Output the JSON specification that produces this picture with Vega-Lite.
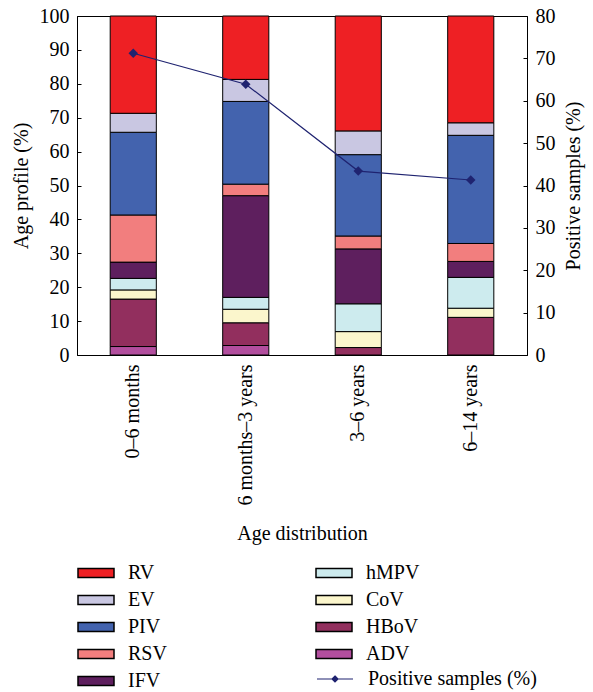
{
  "$schema": "https://vega.github.io/schema/vega-lite/v6.json",
  "width": 450,
  "height": 339,
  "autosize": "none",
  "padding": {"left": 77, "top": 16, "right": 66, "bottom": 337},
  "background": "white",
  "config": {
    "font": "Liberation Serif",
    "view": {"stroke": "black", "strokeWidth": 1},
    "axis": {"labelFont": "Liberation Serif", "titleFont": "Liberation Serif", "labelColor": "black", "titleColor": "black", "domainColor": "black", "tickColor": "black", "labelFontSize": 20, "titleFontSize": 20, "titleFontWeight": "normal", "grid": false},
    "legend": {"labelFont": "Liberation Serif", "labelFontSize": 20, "labelColor": "black", "labelLimit": 300}
  },
  "datasets": {
    "bars": [
      {"age": "0–6 months", "virus": "ADV", "rank": 1, "value": 2.5},
      {"age": "0–6 months", "virus": "HBoV", "rank": 2, "value": 14.0},
      {"age": "0–6 months", "virus": "CoV", "rank": 3, "value": 2.7},
      {"age": "0–6 months", "virus": "hMPV", "rank": 4, "value": 3.4},
      {"age": "0–6 months", "virus": "IFV", "rank": 5, "value": 4.8},
      {"age": "0–6 months", "virus": "RSV", "rank": 6, "value": 13.9},
      {"age": "0–6 months", "virus": "PIV", "rank": 7, "value": 24.4},
      {"age": "0–6 months", "virus": "EV", "rank": 8, "value": 5.6},
      {"age": "0–6 months", "virus": "RV", "rank": 9, "value": 28.7},
      {"age": "6 months–3 years", "virus": "ADV", "rank": 1, "value": 2.8},
      {"age": "6 months–3 years", "virus": "HBoV", "rank": 2, "value": 6.7},
      {"age": "6 months–3 years", "virus": "CoV", "rank": 3, "value": 4.0},
      {"age": "6 months–3 years", "virus": "hMPV", "rank": 4, "value": 3.5},
      {"age": "6 months–3 years", "virus": "IFV", "rank": 5, "value": 30.0},
      {"age": "6 months–3 years", "virus": "RSV", "rank": 6, "value": 3.4},
      {"age": "6 months–3 years", "virus": "PIV", "rank": 7, "value": 24.4},
      {"age": "6 months–3 years", "virus": "EV", "rank": 8, "value": 6.5},
      {"age": "6 months–3 years", "virus": "RV", "rank": 9, "value": 18.7},
      {"age": "3–6 years", "virus": "HBoV", "rank": 2, "value": 2.2},
      {"age": "3–6 years", "virus": "CoV", "rank": 3, "value": 4.7},
      {"age": "3–6 years", "virus": "hMPV", "rank": 4, "value": 8.2},
      {"age": "3–6 years", "virus": "IFV", "rank": 5, "value": 16.2},
      {"age": "3–6 years", "virus": "RSV", "rank": 6, "value": 3.8},
      {"age": "3–6 years", "virus": "PIV", "rank": 7, "value": 24.0},
      {"age": "3–6 years", "virus": "EV", "rank": 8, "value": 7.0},
      {"age": "3–6 years", "virus": "RV", "rank": 9, "value": 33.9},
      {"age": "6–14 years", "virus": "HBoV", "rank": 2, "value": 11.1},
      {"age": "6–14 years", "virus": "CoV", "rank": 3, "value": 2.7},
      {"age": "6–14 years", "virus": "hMPV", "rank": 4, "value": 9.1},
      {"age": "6–14 years", "virus": "IFV", "rank": 5, "value": 4.7},
      {"age": "6–14 years", "virus": "RSV", "rank": 6, "value": 5.3},
      {"age": "6–14 years", "virus": "PIV", "rank": 7, "value": 31.9},
      {"age": "6–14 years", "virus": "EV", "rank": 8, "value": 3.7},
      {"age": "6–14 years", "virus": "RV", "rank": 9, "value": 31.5}
    ],
    "line": [
      {"age": "0–6 months", "series": "Positive samples (%)", "pos": 71.2},
      {"age": "6 months–3 years", "series": "Positive samples (%)", "pos": 63.9},
      {"age": "3–6 years", "series": "Positive samples (%)", "pos": 43.4},
      {"age": "6–14 years", "series": "Positive samples (%)", "pos": 41.3}
    ]
  },
  "encoding": {
    "x": {
      "field": "age", "type": "nominal",
      "sort": ["0–6 months", "6 months–3 years", "3–6 years", "6–14 years"],
      "scale": {"paddingInner": 0.59, "paddingOuter": 0.295},
      "axis": {"title": "Age distribution", "labelAngle": -90, "ticks": false, "domain": false, "labelPadding": 9, "titlePadding": 18}
    }
  },
  "layer": [
    {
      "data": {"name": "bars"},
      "mark": {"type": "bar", "stroke": "black", "strokeWidth": 1},
      "encoding": {
        "y": {
          "field": "value", "type": "quantitative", "stack": "zero",
          "scale": {"domain": [0, 100], "nice": false},
          "axis": {"title": "Age profile (%)", "values": [0,10,20,30,40,50,60,70,80,90,100], "tickSize": -4, "labelPadding": 12, "titlePadding": 8}
        },
        "order": {"field": "rank", "type": "quantitative", "sort": "ascending"},
        "color": {
          "field": "virus", "type": "nominal",
          "scale": {
            "domain": ["RV", "EV", "PIV", "RSV", "IFV", "hMPV", "CoV", "HBoV", "ADV"],
            "range": ["#EE2024", "#C9C7E2", "#4363AE", "#F27E7E", "#5E1F5E", "#CDEBEE", "#FBF6CC", "#922F5E", "#B24E9E"]
          },
          "legend": {
            "title": null, "orient": "none", "legendX": 6, "legendY": 544,
            "columns": 2, "columnPadding": 146, "rowPadding": 4,
            "symbolType": "M-1.5,-0.375H1.5V0.375H-1.5Z", "symbolSize": 576,
            "symbolStrokeColor": "black", "symbolStrokeWidth": 1.5,
            "labelOffset": 19
          }
        }
      }
    },
    {
      "data": {"name": "line"},
      "mark": {"type": "line", "strokeWidth": 1.2},
      "encoding": {
        "y": {
          "field": "pos", "type": "quantitative",
          "scale": {"domain": [0, 80], "nice": false},
          "axis": {"orient": "right", "title": "Positive samples (%)", "values": [0,10,20,30,40,50,60,70,80], "tickSize": -4, "labelPadding": 12, "titlePadding": 8, "titleAngle": 270, "titleBaseline": "top"}
        },
        "stroke": {
          "field": "series", "type": "nominal",
          "scale": {"range": ["#1F2370"]},
          "legend": {
            "title": null, "orient": "none", "legendX": 245, "legendY": 650,
            "symbolType": "M-1.5,0H1.5M0,-0.25L0.25,0L0,0.25L-0.25,0Z", "symbolSize": 576,
            "symbolStrokeWidth": 1.2, "labelOffset": 20,
            "encode": {"symbols": {"update": {"fill": {"value": "#1F2370"}}}}
          }
        }
      }
    },
    {
      "data": {"name": "line"},
      "mark": {"type": "point", "shape": "diamond", "filled": true, "size": 90, "color": "#1F2370", "opacity": 1},
      "encoding": {
        "y": {"field": "pos", "type": "quantitative", "scale": {"domain": [0, 80], "nice": false}, "axis": null}
      }
    }
  ],
  "resolve": {"scale": {"y": "independent"}}
}
